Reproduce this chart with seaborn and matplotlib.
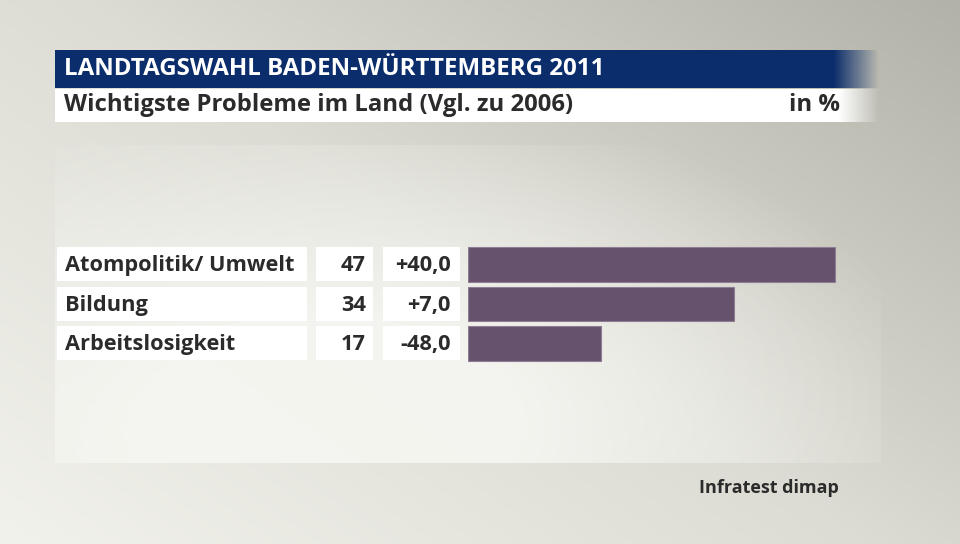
import numpy as np
import matplotlib
matplotlib.use("Agg")
import matplotlib.pyplot as plt
from matplotlib.patches import Rectangle
from matplotlib.colors import LinearSegmentedColormap
import pandas as pd
import seaborn as sns

# data
categories = ["Atompolitik/ Umwelt", "Bildung", "Arbeitslosigkeit"]
values = [47, 34, 17]
changes = ["+40,0", "+7,0", "-48,0"]
title = "LANDTAGSWAHL BADEN-WÜRTTEMBERG 2011"
subtitle = "Wichtigste Probleme im Land (Vgl. zu 2006)"
unit = "in %"
source = "Infratest dimap"

sns.set_theme(style="white")
plt.rcParams['font.family'] = ['Open Sans', 'DejaVu Sans']

W, H = 960, 544
fig = plt.figure(figsize=(9.6, 5.44), dpi=100)

# background in pixel coords
bg = fig.add_axes([0, 0, 1, 1])
bg.set_xlim(0, W)
bg.set_ylim(H, 0)
bg.axis("off")

yy, xx = np.mgrid[0:H, 0:W]
g = 0.55 * (xx / W) + 0.45 * (1 - yy / H)
g = np.clip(g, 0, 1)
cmap_bg = LinearSegmentedColormap.from_list("bg", ["#f2f2ec", "#dcdcd4", "#b3b2a8"])
bg.imshow(g, cmap=cmap_bg, extent=(0, W, H, 0), aspect="auto", zorder=0)

# lighter panel
d = np.hypot((xx - 330) / 620, (yy - 420) / 330)
panel = np.clip(1 - d, 0, 1)
pan_img = np.zeros((H, W, 4))
pan_img[..., :3] = np.array([0.965, 0.965, 0.95])
pan_img[..., 3] = np.clip(panel * 1.3, 0, 0.9)
mask = (xx < 55) | (xx > 880) | (yy < 145) | (yy > 462)
pan_img[mask, 3] = 0
bg.imshow(pan_img, extent=(0, W, H, 0), aspect="auto", zorder=1)

# title band with fade on the right
band = np.zeros((1, 400, 4))
fx = np.linspace(55, 880, 400)
band[0, :, :3] = np.array([0x0b, 0x2d, 0x6b]) / 255
band[0, :, 3] = np.clip((880 - fx) / 45, 0, 1)
bg.imshow(band, extent=(55, 880, 88, 50), aspect="auto", zorder=2)
band2 = band.copy()
band2[0, :, :3] = 1.0
band2[0, :, 3] = np.clip((880 - fx) / 40, 0, 1)
bg.imshow(band2, extent=(55, 880, 122, 89), aspect="auto", zorder=2)

txt = "#2b2b2b"
bg.text(64, 69, title, color="white", fontsize=17.4, fontweight="bold",
        va="center", ha="left", zorder=3)
bg.text(64, 105, subtitle, color=txt, fontsize=17.2, fontweight="bold",
        va="center", ha="left", zorder=3)
bg.text(840, 105, unit, color=txt, fontsize=17.2, fontweight="bold",
        va="center", ha="right", zorder=3)
bg.text(839, 488, source, color=txt, fontsize=13, fontweight="bold",
        va="center", ha="right", zorder=3)

# row boxes and texts
row_top = [247, 287, 326]
row_h = 34
for i, cat in enumerate(categories):
    t = row_top[i]
    for x0, x1 in [(57, 307), (316, 373), (383, 460)]:
        bg.add_patch(Rectangle((x0, t), x1 - x0, row_h, facecolor="white",
                               edgecolor="none", zorder=3))
    cy = t + row_h / 2 + 1.5
    bg.text(65, cy, cat, fontsize=15.7, fontweight="bold", color=txt,
            va="center", ha="left", zorder=4)
    bg.text(366, cy, str(values[i]), fontsize=15.7, fontweight="bold",
            color=txt, va="center", ha="right", zorder=4)
    bg.text(451, cy, changes[i], fontsize=15.7, fontweight="bold",
            color=txt, va="center", ha="right", zorder=4)

# bars
bx0 = 468
scale = 7.81
xmax = 50
top, bottom = 244.5, 363.5
ax = fig.add_axes([bx0 / W, 1 - bottom / H, xmax * scale / W, (bottom - top) / H])
ax.patch.set_alpha(0)
df = pd.DataFrame({"cat": categories, "val": values})
sns.barplot(data=df, x="val", y="cat", ax=ax, color="#67526e", width=0.87,
            saturation=1, edgecolor="#8f7d96", linewidth=0.8)
ax.set_xlim(0, xmax)
ax.axis("off")

fig.savefig("out.png", dpi=100)
